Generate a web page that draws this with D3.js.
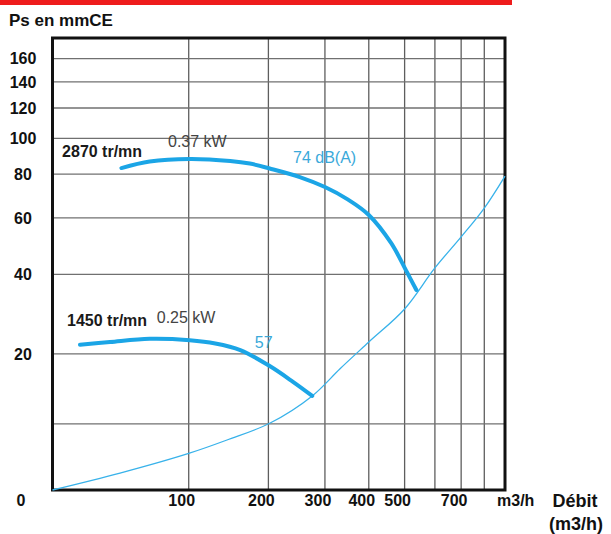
<!DOCTYPE html>
<meta charset="utf-8">
<html>
<head>
    <title>Courbe ventilateur</title>
    <script src="https://cdn.jsdelivr.net/npm/d3@7"></script>
    <style>
        body { margin: 0; background: #fff; }
        .tick-lbl { font-family: "Liberation Sans Narrow", "Arial Narrow", "Liberation Sans", Arial, sans-serif; font-weight: bold; fill: #111; }
    </style>
</head>
<body>
    <div id="chart"></div>
    <script>
        // debit (m3/h) and pressure (mmCE)
        var q2870 = [42, 64, 101, 147, 173, 202, 252, 300, 350, 400, 460, 507, 537];
        var p2870 = [83.1, 86.6, 88.0, 86.9, 85.5, 82.9, 78.5, 73.6, 67.8, 61.2, 50.4, 40.7, 35.4];

        var q1450 = [15, 34, 64, 101, 129, 160, 202, 240, 275];
        var p1450 = [21.9, 22.5, 23.2, 22.9, 22.2, 20.8, 17.6, 14.7, 12.3];

        var qSystem = [0, 41, 100, 143, 202, 275, 332, 400, 500, 600, 700, 800, 900];
        var pSystem = [0, 1.8, 4.1, 5.8, 8.1, 12.3, 17.1, 22.5, 30.3, 42, 52.6, 64.1, 79];

        var xGrid = [100, 200, 300, 400, 500, 600, 700, 800];
        var xTickLabels = [100, 200, 300, 400, 500, 700];
        var yGrid = [8, 20, 40, 60, 80, 100, 120, 140, 160];
        var yTickLabels = [20, 40, 60, 80, 100, 120, 140, 160];

        var annotations = [
            {text: "2870 tr/mn", q: 5, p: 89, kind: "speed"},
            {text: "0.37 kW", q: 80, p: 94.8, kind: "power"},
            {text: "74 dB(A)", q: 240, p: 85.8, kind: "noise"},
            {text: "1450 tr/mn", q: 7.7, p: 26.1, kind: "speed"},
            {text: "0.25 kW", q: 70, p: 26.8, kind: "power"},
            {text: "57", q: 180, p: 21.2, kind: "noise"}
        ];

        var width = 611, height = 534;
        var plotLeft = 52.5, plotRight = 505, plotTop = 38, plotBottom = 490;

        // both axes are one log decade, offset so that 0 sits on the frame
        var qOff = 100, pOff = 20;
        var xLog = d3.scaleLog().domain([qOff, 900 + qOff]).range([plotLeft, plotRight]);
        var yLog = d3.scaleLog().domain([pOff, 180 + pOff]).range([plotBottom, plotTop]);
        function x(q) { return xLog(q + qOff); }
        function y(p) { return yLog(p + pOff); }

        var svg = d3.select("#chart").append("svg")
            .attr("width", width)
            .attr("height", height);

        // red header bar
        svg.append("rect")
            .attr("x", 0).attr("y", 0)
            .attr("width", 512).attr("height", 5)
            .attr("fill", "#ee1c1c");

        svg.append("text")
            .attr("class", "tick-lbl")
            .attr("x", 9).attr("y", 26)
            .attr("font-size", "17px")
            .attr("fill", "#222")
            .text("Ps en mmCE");

        // grid
        svg.append("g").selectAll("line")
            .data(xGrid).enter()
            .append("line")
            .attr("x1", function(d){ return x(d); })
            .attr("x2", function(d){ return x(d); })
            .attr("y1", plotTop).attr("y2", plotBottom)
            .attr("stroke", "#5e5e5e")
            .attr("stroke-width", 1.3);

        svg.append("g").selectAll("line")
            .data(yGrid).enter()
            .append("line")
            .attr("y1", function(d){ return y(d); })
            .attr("y2", function(d){ return y(d); })
            .attr("x1", plotLeft).attr("x2", plotRight)
            .attr("stroke", "#707070")
            .attr("stroke-width", 1.3);

        // frame
        svg.append("rect")
            .attr("x", plotLeft).attr("y", plotTop)
            .attr("width", plotRight - plotLeft).attr("height", plotBottom - plotTop)
            .attr("fill", "none")
            .attr("stroke", "#111")
            .attr("stroke-width", 3);

        // tick labels
        svg.append("g").selectAll("text")
            .data(xTickLabels).enter()
            .append("text")
            .attr("class", "tick-lbl")
            .attr("x", function(d){ return x(d) - 7; })
            .attr("y", 506)
            .attr("text-anchor", "middle")
            .attr("font-size", "16px")
            .text(function(d){ return d; });

        svg.append("g").selectAll("text")
            .data(yTickLabels).enter()
            .append("text")
            .attr("class", "tick-lbl")
            .attr("x", 23)
            .attr("y", function(d){ return y(d); })
            .attr("dy", "0.36em")
            .attr("text-anchor", "middle")
            .attr("font-size", "16px")
            .text(function(d){ return d; });

        svg.append("text")
            .attr("class", "tick-lbl")
            .attr("x", 21).attr("y", 506)
            .attr("text-anchor", "middle")
            .attr("font-size", "16px")
            .text("0");

        svg.append("text")
            .attr("class", "tick-lbl")
            .attr("x", plotRight - 8).attr("y", 506)
            .attr("font-size", "16px")
            .text("m3/h");

        svg.append("text")
            .attr("x", 575).attr("y", 507)
            .attr("text-anchor", "middle")
            .attr("font-family", "Liberation Sans, Arial, sans-serif")
            .attr("font-weight", "bold")
            .attr("font-size", "18px")
            .attr("fill", "#111")
            .text("Débit");

        svg.append("text")
            .attr("x", 576).attr("y", 530)
            .attr("text-anchor", "middle")
            .attr("font-family", "Liberation Sans, Arial, sans-serif")
            .attr("font-weight", "bold")
            .attr("font-size", "18px")
            .attr("fill", "#111")
            .text("(m3/h)");

        // curves
        var line = d3.line()
            .x(function(d){ return x(d[0]); })
            .y(function(d){ return y(d[1]); })
            .curve(d3.curveCatmullRom.alpha(0.5));

        svg.append("path")
            .datum(d3.zip(qSystem, pSystem))
            .attr("d", line)
            .attr("fill", "none")
            .attr("stroke", "#38b2ea")
            .attr("stroke-width", 1.3);

        svg.append("path")
            .datum(d3.zip(q2870, p2870))
            .attr("d", line)
            .attr("fill", "none")
            .attr("stroke", "#1ba5e6")
            .attr("stroke-width", 4)
            .attr("stroke-linecap", "round");

        svg.append("path")
            .datum(d3.zip(q1450, p1450))
            .attr("d", line)
            .attr("fill", "none")
            .attr("stroke", "#1ba5e6")
            .attr("stroke-width", 4)
            .attr("stroke-linecap", "round");

        // annotations
        svg.append("g").selectAll("text")
            .data(annotations).enter()
            .append("text")
            .attr("x", function(d){ return x(d.q); })
            .attr("y", function(d){ return y(d.p); })
            .attr("font-family", "Liberation Sans, Arial, sans-serif")
            .attr("font-size", "16px")
            .attr("font-weight", function(d){ return d.kind == "speed" ? "bold" : "normal"; })
            .attr("fill", function(d){
                if (d.kind == "noise") return "#3aa9da";
                if (d.kind == "power") return "#444";
                return "#1a1a1a";
            })
            .text(function(d){ return d.text; });
    </script>
</body>
</html>
